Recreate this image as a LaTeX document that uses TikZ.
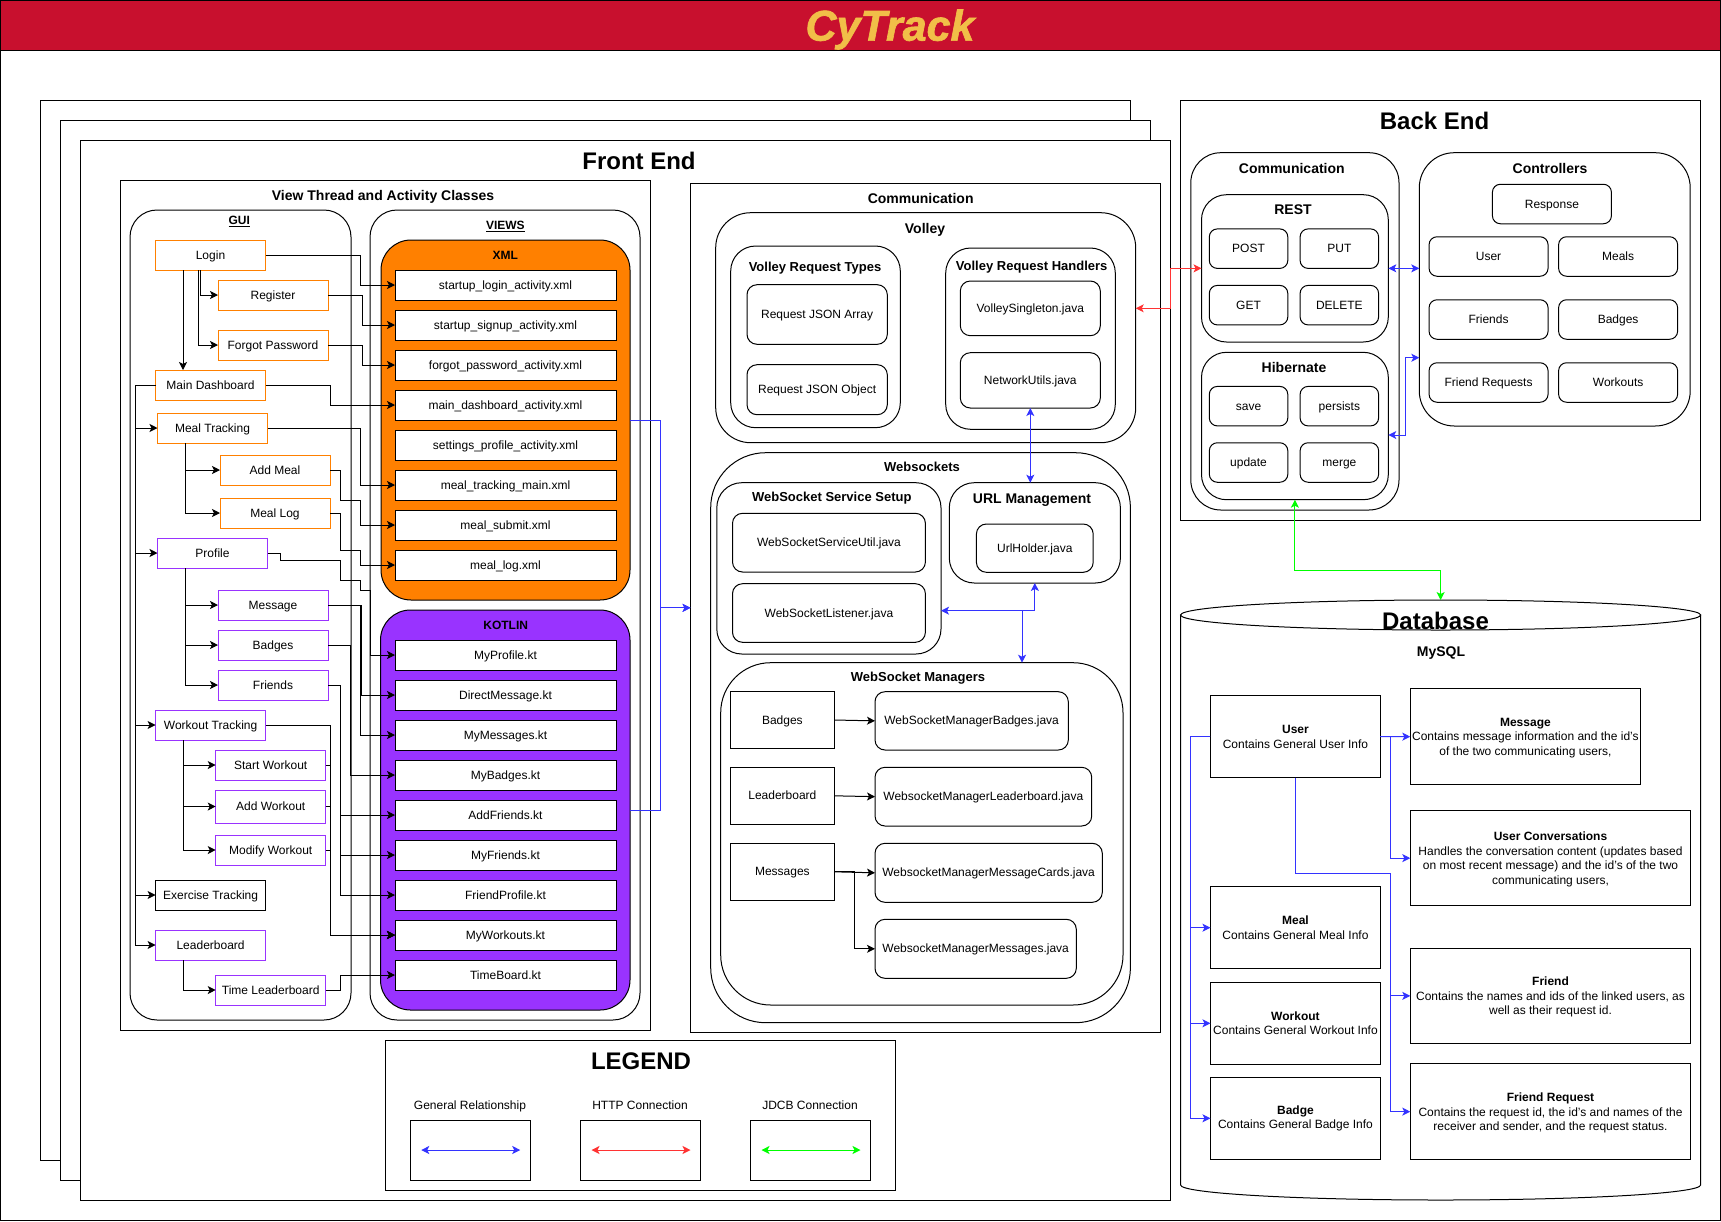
\documentclass[tikz,border=0pt]{standalone}
\usepackage{fontspec}
\setmainfont{Liberation Sans}
\usetikzlibrary{arrows.meta}
\definecolor{cardinal}{HTML}{C8102E}
\definecolor{gold}{HTML}{F1BE48}
\definecolor{xmlorange}{HTML}{FF8000}
\definecolor{ktpurple}{HTML}{9933FF}
\definecolor{genblue}{HTML}{3333FF}
\definecolor{httpred}{HTML}{FF3333}
\definecolor{jdbcgreen}{HTML}{00FF00}
\begin{document}
\begin{tikzpicture}
	[x=1pt,y=-1pt,line width=1pt,
	every node/.style={inner sep=0pt,outer sep=0pt,align=center,font=\fontsize{12}{14.5}\selectfont},
	>={Stealth[length=8pt,width=8pt,inset=2pt]},
	oneline/.style={text height=9pt,text depth=1pt},
	plainbox/.style={draw,fill=white},
	roundbox/.style={draw,fill=white,rounded corners=#1,oneline},
	roundbox/.default=10pt,
	filebox/.style={draw,fill=white,oneline,minimum width=221pt,minimum height=30pt},
	guibox/.style={draw=#1,fill=white,oneline,minimum width=110pt,minimum height=30pt},
	crudbox/.style={roundbox=8pt,minimum width=78.5pt,minimum height=39.5pt},
	ctrlitem/.style={roundbox=8pt,minimum width=119pt,minimum height=39.5pt},
	dbleft/.style={plainbox,minimum width=170pt,minimum height=82pt},
	dbright/.style={plainbox,text depth=0pt,minimum width=280.4pt,minimum height=95.5pt},
	legbox/.style={plainbox,minimum width=120pt,minimum height=60pt},
	mgrbox/.style={plainbox,oneline,minimum width=103.3pt,minimum height=57pt},
	boxtitle/.style={font=\bfseries\fontsize{14}{16}\selectfont,text height=10pt,text depth=0pt},
	midtitle/.style={font=\bfseries\fontsize{13}{15}\selectfont,text height=9.3pt,text depth=0pt},
	smalltitle/.style={font=\bfseries\fontsize{12}{14}\selectfont,text height=8.6pt,text depth=0pt},
	bigtitle/.style={font=\bfseries\fontsize{24}{28}\selectfont,text height=17pt,text depth=0pt},
	link/.style={->},
	genlink/.style={<->,draw=genblue},
	gentip/.style={->,draw=genblue},
	httplink/.style={<->,draw=httpred},
	jdbclink/.style={<->,draw=jdbcgreen}]
	\useasboundingbox (0,0) rectangle (1721,1221);
	\node[draw,minimum width=1720pt,minimum height=1220pt] (pageframe) at (860.5,610.5) {};
	\node[draw,fill=cardinal,minimum width=1720pt,minimum height=50pt] (header) at (860.5,25.5) {};
	\node[font=\bfseries\itshape\fontsize{43}{48}\selectfont\addfontfeature{FakeBold=1.5},text=gold] (cytrack) at (890,29.5) {CyTrack};

	\node[plainbox,minimum width=1090pt,minimum height=1060pt] (backframe) at (585.5,630) {};
	\node[plainbox,minimum width=1090pt,minimum height=1060pt] (midframe) at (605.5,650) {};
	\node[plainbox,minimum width=1090pt,minimum height=1060pt] (frontframe) at (625.5,670) {};
	\node[bigtitle] (fronttitle) at (639,161) {Front End};

	\node[plainbox,minimum width=529.5pt,minimum height=850pt] (viewbox) at (385.25,605) {};
	\node[boxtitle] (viewtitle) at (383,195) {View Thread and Activity Classes};
	\node[roundbox=27pt,minimum width=221pt,minimum height=810pt] (guiarea) at (240.5,615) {};
	\node[smalltitle] (guititle) at (239.3,220) {\underline{GUI}};
	\node[roundbox=27pt,minimum width=270pt,minimum height=810pt] (viewsarea) at (505,615) {};
	\node[smalltitle] (viewstitle) at (505.4,225) {\underline{VIEWS}};
	\node[draw,fill=xmlorange,rounded corners=30pt,minimum width=249pt,minimum height=360pt] (xmlarea) at (505.5,420) {};
	\node[smalltitle] (xmltitle) at (505.4,255) {XML};
	\node[draw,fill=ktpurple,rounded corners=30pt,minimum width=249.5pt,minimum height=400pt] (kotlinarea) at (505.25,810) {};
	\node[smalltitle] (kotlintitle) at (505.7,624.7) {KOTLIN};

	\node[filebox] (xmllogin) at (505.5,285) {startup\_login\_activity.xml};
	\node[filebox] (xmlsignup) at (505.5,325) {startup\_signup\_activity.xml};
	\node[filebox] (xmlforgot) at (505.5,365) {forgot\_password\_activity.xml};
	\node[filebox] (xmldash) at (505.5,405) {main\_dashboard\_activity.xml};
	\node[filebox] (xmlsettings) at (505.5,445) {settings\_profile\_activity.xml};
	\node[filebox] (xmlmeal) at (505.5,485) {meal\_tracking\_main.xml};
	\node[filebox] (xmlsubmit) at (505.5,525) {meal\_submit.xml};
	\node[filebox] (xmllog) at (505.5,565) {meal\_log.xml};

	\node[filebox] (ktprofile) at (505.5,655) {MyProfile.kt};
	\node[filebox] (ktdirect) at (505.5,695) {DirectMessage.kt};
	\node[filebox] (ktmessages) at (505.5,735) {MyMessages.kt};
	\node[filebox] (ktbadges) at (505.5,775) {MyBadges.kt};
	\node[filebox] (ktaddfriends) at (505.5,815) {AddFriends.kt};
	\node[filebox] (ktfriends) at (505.5,855) {MyFriends.kt};
	\node[filebox] (ktfriendprofile) at (505.5,895) {FriendProfile.kt};
	\node[filebox] (ktworkouts) at (505.5,935) {MyWorkouts.kt};
	\node[filebox] (kttime) at (505.5,975) {TimeBoard.kt};

	\node[guibox=xmlorange] (login) at (210.5,255) {Login};
	\node[guibox=xmlorange] (register) at (273,295) {Register};
	\node[guibox=xmlorange] (forgot) at (273,345) {Forgot Password};
	\node[guibox=xmlorange] (maindash) at (210.5,385) {Main Dashboard};
	\node[guibox=xmlorange] (mealtrack) at (212.5,428) {Meal Tracking};
	\node[guibox=xmlorange] (addmeal) at (275,470) {Add Meal};
	\node[guibox=xmlorange] (meallog) at (275,513) {Meal Log};
	\node[guibox=ktpurple] (profile) at (212.5,553) {Profile};
	\node[guibox=ktpurple] (message) at (273,605) {Message};
	\node[guibox=ktpurple] (badges) at (273,645) {Badges};
	\node[guibox=ktpurple] (friends) at (273,685) {Friends};
	\node[guibox=ktpurple] (worktrack) at (210.6,725) {Workout Tracking};
	\node[guibox=ktpurple] (startwork) at (270.7,765) {Start Workout};
	\node[guibox=ktpurple,minimum height=33pt] (addwork) at (270.7,806.5) {Add Workout};
	\node[guibox=ktpurple] (modwork) at (270.7,850) {Modify Workout};
	\node[guibox=black] (exercise) at (210.6,895) {Exercise Tracking};
	\node[guibox=ktpurple] (leaderboard) at (210.6,945) {Leaderboard};
	\node[guibox=ktpurple] (timelead) at (270.7,990) {Time Leaderboard};

	\draw[link] ([xshift=-27.5pt]login.south) -- ([xshift=-27.5pt]maindash.north);
	\draw[link] ([xshift=-10pt]login.south) |- (register.west);
	\draw[link] ([xshift=-12.5pt]login.south) |- (forgot.west);
	\draw[link] (maindash.west) -- ++(-19.8,0) |- (mealtrack.west);
	\draw[link] (maindash.west) -- ++(-19.8,0) |- (profile.west);
	\draw[link] (maindash.west) -- ++(-19.8,0) |- (worktrack.west);
	\draw[link] (maindash.west) -- ++(-19.8,0) |- (exercise.west);
	\draw[link] (maindash.west) -- ++(-19.8,0) |- (leaderboard.west);
	\draw[link] ([xshift=-27.5pt]mealtrack.south) |- (addmeal.west);
	\draw[link] ([xshift=-27.5pt]mealtrack.south) |- (meallog.west);
	\draw[link] ([xshift=-27.5pt]profile.south) |- (message.west);
	\draw[link] ([xshift=-27.5pt]profile.south) |- (badges.west);
	\draw[link] ([xshift=-27.5pt]profile.south) |- (friends.west);
	\draw[link] ([xshift=-27.6pt]worktrack.south) |- (startwork.west);
	\draw[link] ([xshift=-27.6pt]worktrack.south) |- (addwork.west);
	\draw[link] ([xshift=-27.6pt]worktrack.south) |- (modwork.west);
	\draw[link] ([xshift=-27.6pt]leaderboard.south) |- (timelead.west);

	\draw[link] (login.east) -- ++(95.2,0) |- (xmllogin.west);
	\draw[link] (register.east) -- ++(34,0) |- (xmlsignup.west);
	\draw[link] (forgot.east) -- ++(34,0) |- (xmlforgot.west);
	\draw[link] (maindash.east) -- ++(65.2,0) |- (xmldash.west);
	\draw[link] (mealtrack.east) -- ++(93.2,0) |- (xmlmeal.west);
	\draw[link] (addmeal.east) -- ++(10.7,0) -- ++(0,30) -- ++(20,0) |- (xmlsubmit.west);
	\draw[link] (meallog.east) -- ++(10.7,0) -- ++(0,37) -- ++(20,0) |- (xmllog.west);
	\draw[link] (profile.east) -- ++(12.5,0) -- ++(0,7) -- ++(60.7,0) -- ++(0,20) -- ++(20,0) -- ++(0,10) -- ++(9.9,0) |- (ktprofile.west);
	\draw[link] (message.east) -- ++(33.4,0) |- (ktdirect.west);
	\draw[link] (message.east) -- ++(32.2,0) |- (ktmessages.west);
	\draw[link] (badges.east) -- ++(22.7,0) |- (ktbadges.west);
	\draw[link] (friends.east) -- ++(12.7,0) |- (ktaddfriends.west);
	\draw[link] (friends.east) -- ++(12.7,0) |- (ktfriends.west);
	\draw[link] (friends.east) -- ++(12.7,0) |- (ktfriendprofile.west);
	\draw[link] (worktrack.east) -- ++(65.2,0) |- (ktworkouts.west);
	\draw[link] (startwork.east) -- ++(5.1,0) |- (ktworkouts.west);
	\draw[link] (addwork.east) -- ++(5.1,0) |- (ktworkouts.west);
	\draw[link] (modwork.east) -- ++(5.1,0) |- (ktworkouts.west);
	\draw[link] (timelead.east) -- ++(15,0) |- (kttime.west);

	\node[plainbox,minimum width=470pt,minimum height=849.7pt] (commarea) at (925.5,607.85) {};
	\node[boxtitle] (commtitle) at (920.7,198) {Communication};
	\draw[gentip] (xmlarea.east) -- ++(30.7,0) |- (commarea.west);
	\draw[gentip] (kotlinarea.east) -- ++(30.7,0) |- (commarea.west);

	\node[roundbox=35pt,minimum width=420pt,minimum height=230pt] (volleyarea) at (925.7,327.7) {};
	\node[boxtitle] (volleytitle) at (925,228) {Volley};
	\node[roundbox=25pt,minimum width=169.6pt,minimum height=181.7pt] (typesarea) at (815.5,336.85) {};
	\node[midtitle] (typestitle) at (815,267) {Volley Request Types};
	\node[roundbox,minimum width=140.3pt,minimum height=59.6pt] (jsonarray) at (817.15,314.5) {Request JSON Array};
	\node[roundbox,minimum width=140.3pt,minimum height=50pt] (jsonobject) at (817.15,389.7) {Request JSON Object};
	\node[roundbox=25pt,minimum width=169.6pt,minimum height=181.3pt] (handlersarea) at (1030.5,338.65) {};
	\node[midtitle] (handlerstitle) at (1031.7,266) {Volley Request Handlers};
	\node[roundbox,minimum width=140pt,minimum height=54.7pt] (singleton) at (1030.3,308.35) {VolleySingleton.java};
	\node[roundbox,minimum width=140pt,minimum height=55.3pt] (netutils) at (1030.3,380.35) {NetworkUtils.java};

	\node[roundbox=55pt,minimum width=419.7pt,minimum height=570pt] (wsarea) at (920.55,737.7) {};
	\node[midtitle] (wstitle) at (922,467) {Websockets};
	\node[roundbox=25pt,minimum width=224.2pt,minimum height=171.3pt] (setuparea) at (828.9,568.35) {};
	\node[midtitle] (setuptitle) at (831.8,497) {WebSocket Service Setup};
	\node[roundbox,minimum width=192.9pt,minimum height=58.7pt] (wsutil) at (828.95,542.65) {WebSocketServiceUtil.java};
	\node[roundbox,minimum width=192.9pt,minimum height=58.6pt] (wslistener) at (828.95,613) {WebSocketListener.java};
	\node[roundbox=25pt,minimum width=171.1pt,minimum height=100.3pt] (urlarea) at (1034.85,532.85) {};
	\node[boxtitle] (urltitle) at (1032,498.3) {URL Management};
	\node[roundbox,minimum width=116.8pt,minimum height=48.3pt] (urlholder) at (1034.8,548.15) {UrlHolder.java};

	\node[roundbox=50pt,minimum width=402.3pt,minimum height=342.3pt] (mgrarea) at (921.85,833.85) {};
	\node[midtitle] (mgrtitle) at (918,677.3) {WebSocket Managers};
	\node[mgrbox] (mgrbadges) at (782.35,720) {Badges};
	\node[mgrbox] (mgrleader) at (782.35,795.8) {Leaderboard};
	\node[mgrbox] (mgrmessages) at (782.35,871.8) {Messages};
	\node[roundbox,minimum width=193.3pt,minimum height=58.3pt] (javabadges) at (971.65,720.85) {WebSocketManagerBadges.java};
	\node[roundbox,minimum width=216.7pt,minimum height=58.7pt] (javaleader) at (983.35,796.65) {WebsocketManagerLeaderboard.java};
	\node[roundbox,minimum width=227.3pt,minimum height=59pt] (javacards) at (988.65,872.8) {WebsocketManagerMessageCards.java};
	\node[roundbox,minimum width=201.3pt,minimum height=59pt] (javamsgs) at (975.65,948.8) {WebsocketManagerMessages.java};

	\draw[link] (mgrbadges.east) -- (javabadges.west);
	\draw[link] (mgrleader.east) -- (javaleader.west);
	\draw[link] (mgrmessages.east) -- (javacards.west);
	\draw[link] (mgrmessages.east) -- ++(20.3,0) |- (javamsgs.west);
	\draw[genlink] (netutils.south) -- (netutils.south |- urlarea.north);
	\draw[genlink] (urlarea.south) |- ([yshift=-42.35pt]setuparea.east);
	\coordinate (urljoin) at ([xshift=-12.85pt,yshift=-27.7pt]urlarea.south);
	\draw[gentip] (urljoin) -- (urljoin |- mgrarea.north);

	\node[plainbox,minimum width=520.1pt,minimum height=420pt] (backarea) at (1440.55,310) {};
	\node[bigtitle] (backtitle) at (1434.5,121) {Back End};
	\node[roundbox=30pt,minimum width=208.2pt,minimum height=357.3pt] (servercomm) at (1294.9,331.35) {};
	\node[boxtitle] (servertitle) at (1291.8,168) {Communication};
	\node[roundbox=25pt,minimum width=186.8pt,minimum height=147.3pt] (restarea) at (1294.9,268.35) {};
	\node[boxtitle] (resttitle) at (1293,209.3) {REST};
	\node[crudbox] (post) at (1248.55,248.65) {POST};
	\node[crudbox] (put) at (1339.35,248.65) {PUT};
	\node[crudbox] (get) at (1248.55,305.15) {GET};
	\node[crudbox] (delete) at (1339.35,305.15) {DELETE};
	\node[roundbox=25pt,minimum width=186.8pt,minimum height=147.4pt] (hibarea) at (1294.9,426) {};
	\node[boxtitle] (hibtitle) at (1294,367) {Hibernate};
	\node[crudbox] (save) at (1248.55,406.15) {save};
	\node[crudbox] (persists) at (1339.35,406.15) {persists};
	\node[crudbox] (update) at (1248.55,462.5) {update};
	\node[crudbox] (merge) at (1339.35,462.5) {merge};

	\node[roundbox=35pt,minimum width=270.9pt,minimum height=273.3pt] (ctrlarea) at (1554.75,289.35) {};
	\node[boxtitle] (ctrltitle) at (1550,168) {Controllers};
	\node[ctrlitem] (response) at (1551.9,204) {Response};
	\node[ctrlitem] (ctrluser) at (1488.55,256.5) {User};
	\node[ctrlitem] (ctrlmeals) at (1618.1,256.5) {Meals};
	\node[ctrlitem] (ctrlfriends) at (1488.55,319.5) {Friends};
	\node[ctrlitem] (ctrlbadges) at (1618.1,319.5) {Badges};
	\node[ctrlitem] (ctrlrequests) at (1488.55,382.5) {Friend Requests};
	\node[ctrlitem] (ctrlworkouts) at (1618.1,382.5) {Workouts};

	\draw[httplink] ([yshift=19.4pt]volleyarea.east) -- ++(34.8,0) |- (restarea.west);
	\draw[genlink] (restarea.east) -- (restarea.east -| ctrlarea.west);
	\draw[genlink] ([yshift=-9pt]hibarea.east) -- ++(16.7,0) |- ([yshift=-68.35pt]ctrlarea.west);

	\coordinate (dbtop) at (1440.6,600);
	\draw[fill=white] (1180.6,615) -- (1180.6,1185) .. controls (1180.6,1193.3) and (1297,1200) .. (1440.6,1200) .. controls (1584.2,1200) and (1700.6,1193.3) .. (1700.6,1185) -- (1700.6,615) -- cycle;
	\draw[fill=white] (1440.6,615) ellipse [x radius=260,y radius=15];
	\draw[jdbclink] (hibarea.south) -- ++(0,70.6) -| (dbtop);
	\node[bigtitle] (dbtitle) at (1435.5,621) {Database};
	\node[boxtitle] (mysql) at (1441,651) {MySQL};

	\node[dbleft] (dbuser) at (1295.45,736.7) {\textbf{User}\\Contains General User Info};
	\node[dbleft] (dbmeal) at (1295.45,927.7) {\textbf{Meal}\\Contains General Meal Info};
	\node[dbleft] (dbworkout) at (1295.45,1023.3) {\textbf{Workout}\\Contains General Workout Info};
	\node[dbleft] (dbbadge) at (1295.45,1118.3) {\textbf{Badge}\\Contains General Badge Info};
	\node[dbright,minimum width=230.2pt] (dbmessage) at (1525.4,736.65) {\textbf{Message}\\Contains message information and the id's\\of the two communicating users,};
	\node[dbright] (dbconv) at (1550.5,858.15) {\textbf{User Conversations}\\Handles the conversation content (updates based\\on most recent message) and the id's of the two\\communicating users,};
	\node[dbright] (dbfriend) at (1550.5,995.85) {\textbf{Friend}\\Contains the names and ids of the linked users, as\\well as their request id.};
	\node[dbright] (dbrequest) at (1550.5,1111.65) {\textbf{Friend Request}\\Contains the request id, the id's and names of the\\receiver and sender, and the request status.};

	\draw[gentip] (dbuser.west) -- ++(-20,0) |- (dbmeal.west);
	\draw[gentip] (dbuser.west) -- ++(-20,0) |- (dbworkout.west);
	\draw[gentip] (dbuser.west) -- ++(-20,0) |- (dbbadge.west);
	\draw[gentip] (dbuser.east) -- (dbmessage.west);
	\draw[gentip] (dbuser.east) -- ++(10.2,0) |- (dbconv.west);
	\draw[gentip] (dbuser.south) -- ++(0,95.6) -- ++(95.25,0) |- (dbfriend.west);
	\draw[gentip] (dbuser.south) -- ++(0,95.6) -- ++(95.25,0) |- (dbrequest.west);

	\node[plainbox,minimum width=509.9pt,minimum height=150pt] (legendarea) at (640.55,1115) {};
	\node[bigtitle] (legendtitle) at (641,1060.7) {LEGEND};
	\node[oneline] (leggeneral) at (470,1105) {General Relationship};
	\node[oneline] (leghttp) at (640,1105) {HTTP Connection};
	\node[oneline] (legjdbc) at (810,1105) {JDCB Connection};
	\node[legbox] (legblue) at (470.25,1150) {};
	\node[legbox] (legred) at (640.5,1150) {};
	\node[legbox] (leggreen) at (810.5,1150) {};
	\draw[genlink,shorten <=11pt,shorten >=10pt] (legblue.west) -- (legblue.east);
	\draw[httplink,shorten <=11pt,shorten >=10pt] (legred.west) -- (legred.east);
	\draw[jdbclink,shorten <=11pt,shorten >=10pt] (leggreen.west) -- (leggreen.east);
\end{tikzpicture}
\end{document}
